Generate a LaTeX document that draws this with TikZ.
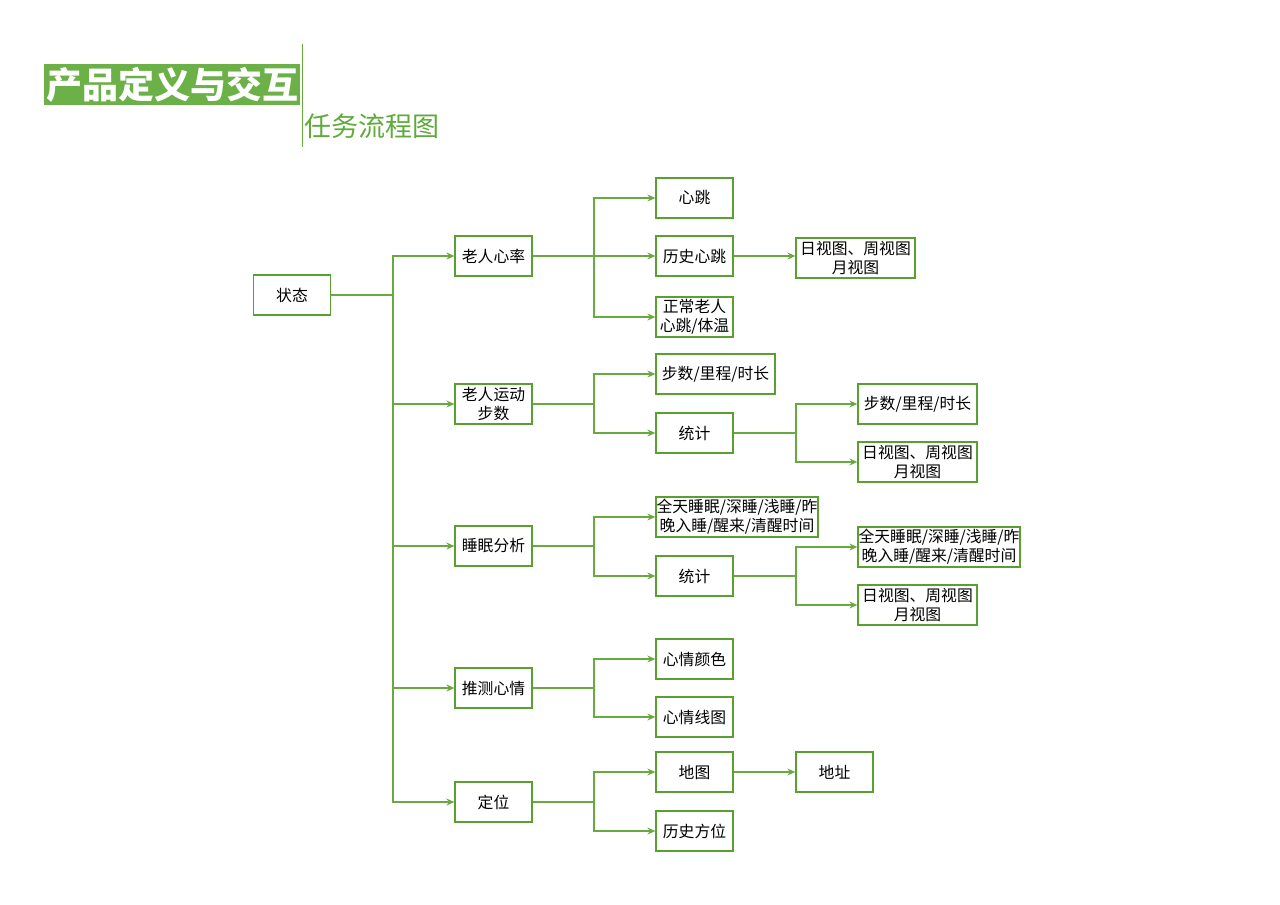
\documentclass[tikz,border=0pt]{standalone}
\usepackage{fontspec}
\setmainfont{Noto Sans CJK SC}
\newfontfamily\cjk{Noto Sans CJK SC}
\usetikzlibrary{arrows.meta}
\definecolor{gborder}{RGB}{88,160,48}
\definecolor{gline}{RGB}{104,170,64}
\definecolor{gbar}{RGB}{108,176,72}
\definecolor{gsub}{RGB}{96,170,60}
\tikzset{
  box/.style={draw=gborder, line width=1.3pt, fill=white, minimum height=40pt, minimum width=77pt, inner sep=0.5pt, align=center, font=\cjk\fontsize{15.8}{19}\selectfont, text=black},
  conn/.style={draw=gline, line width=1.2pt},
  arr/.style={conn, -{Stealth[length=8pt,width=7pt]}}
}
\begin{document}
\begin{tikzpicture}[x=1pt,y=-1pt]
\useasboundingbox (0,0) rectangle (1280,905);
% title
\node[fill=gbar, minimum width=256pt, minimum height=41pt, inner sep=0pt, anchor=north west, text=white, font=\cjk\bfseries\fontsize{36}{38}\selectfont] (title) at (44,64) {产品定义与交互};
\draw[draw=gline, line width=1pt] (302,44) -- (302,147);
\node[anchor=west, text=gsub, font=\cjk\fontsize{27}{29}\selectfont, inner sep=0pt] (sub) at (304,126) {任务流程图};

% level 0
\node[box] (s) at (292,295) {状态};
% level 1
\node[box] (a) at (493.5,256) {老人心率};
\node[box] (b) at (493.5,404) {老人运动\\步数};
\node[box] (c) at (493.5,546) {睡眠分析};
\node[box] (d) at (493.5,688) {推测心情};
\node[box] (e) at (493.5,802) {定位};
% level 2
\node[box] (a1) at (694.5,198) {心跳};
\node[box] (a2) at (694.5,256) {历史心跳};
\node[box] (a3) at (694.5,317) {正常老人\\心跳/体温};
\node[box, minimum width=119pt] (b1) at (715.5,374) {步数/里程/时长};
\node[box] (b2) at (694.5,433) {统计};
\node[box, minimum width=162pt] (c1) at (737,517) {全天睡眠/深睡/浅睡/昨\\晚入睡/醒来/清醒时间};
\node[box] (c2) at (694.5,576) {统计};
\node[box] (d1) at (694.5,659) {心情颜色};
\node[box] (d2) at (694.5,717) {心情线图};
\node[box] (e1) at (694.5,772) {地图};
\node[box] (e2) at (694.5,831) {历史方位};
% level 3
\node[box, minimum width=119pt] (a21) at (855.5,258) {日视图、周视图\\月视图};
\node[box, minimum width=119pt] (b21) at (917.5,404) {步数/里程/时长};
\node[box, minimum width=119pt] (b22) at (917.5,462) {日视图、周视图\\月视图};
\node[box, minimum width=162pt] (c21) at (939,547) {全天睡眠/深睡/浅睡/昨\\晚入睡/醒来/清醒时间};
\node[box, minimum width=119pt] (c22) at (917.5,605) {日视图、周视图\\月视图};
\node[box] (e11) at (834.5,772) {地址};

% connectors level 0 -> 1
\draw[conn] (s.east) -- (393,295) coordinate (t0);
\foreach \n in {a,b,c,d,e} { \draw[arr] (t0) |- (\n.west); }
% level 1 -> 2
\draw[conn] (a.east) -- (594,256) coordinate (ta);
\foreach \n in {a1,a2,a3} { \draw[arr] (ta) |- (\n.west); }
\draw[conn] (b.east) -- (594,404) coordinate (tb);
\foreach \n in {b1,b2} { \draw[arr] (tb) |- (\n.west); }
\draw[conn] (c.east) -- (594,546) coordinate (tc);
\foreach \n in {c1,c2} { \draw[arr] (tc) |- (\n.west); }
\draw[conn] (d.east) -- (594,688) coordinate (td);
\foreach \n in {d1,d2} { \draw[arr] (td) |- (\n.west); }
\draw[conn] (e.east) -- (594,802) coordinate (te);
\foreach \n in {e1,e2} { \draw[arr] (te) |- (\n.west); }
% level 2 -> 3
\draw[arr] (a2.east) -- (a21.west |- a2.east);
\draw[conn] (b2.east) -- (796,433) coordinate (tb2);
\foreach \n in {b21,b22} { \draw[arr] (tb2) |- (\n.west); }
\draw[conn] (c2.east) -- (796,576) coordinate (tc2);
\foreach \n in {c21,c22} { \draw[arr] (tc2) |- (\n.west); }
\draw[arr] (e1.east) -- (e11.west);
\end{tikzpicture}
\end{document}
